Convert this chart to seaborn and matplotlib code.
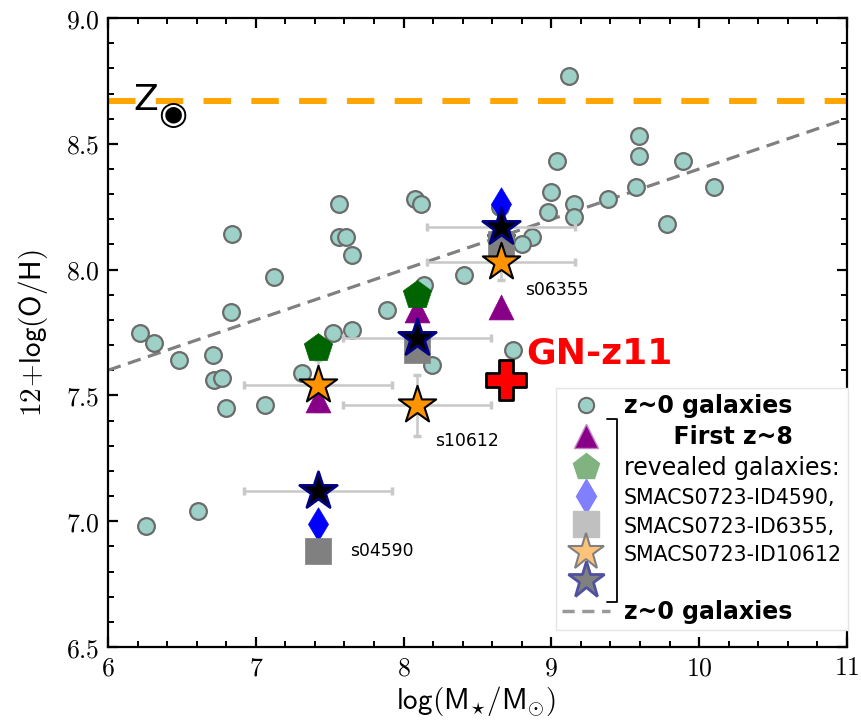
import numpy as np
import pandas as pd
import matplotlib
matplotlib.use("Agg")
import matplotlib.pyplot as plt
import seaborn as sns
from matplotlib.lines import Line2D
from matplotlib.ticker import MultipleLocator, FuncFormatter

# ---------------- data ----------------
z0_mass = [9.12, 9.59, 9.59, 9.04, 9.89, 10.10, 9.57, 9.00, 9.38, 9.15, 9.15, 8.98, 9.78,
           8.87, 8.80, 8.65, 8.08, 8.12, 7.56, 7.56, 7.61, 7.65, 6.84, 7.12, 8.14, 8.41,
           7.89, 6.83, 7.52, 7.65, 6.22, 6.31, 6.48, 6.71, 6.72, 6.77, 6.80, 7.06, 7.31,
           8.19, 8.74, 6.26, 6.61]
z0_oh = [8.77, 8.53, 8.45, 8.43, 8.43, 8.33, 8.33, 8.31, 8.28, 8.26, 8.21, 8.23, 8.18,
         8.13, 8.10, 8.25, 8.28, 8.26, 8.26, 8.13, 8.13, 8.06, 8.14, 7.97, 7.94, 7.98,
         7.84, 7.83, 7.75, 7.76, 7.75, 7.71, 7.64, 7.66, 7.56, 7.57, 7.45, 7.46, 7.59,
         7.62, 7.68, 6.98, 7.04]

gal_names = ["s04590", "s10612", "s06355"]
gal_mass = [7.42, 8.09, 8.66]
tri_oh = [7.48, 7.84, 7.85]
pent_oh = [7.69, 7.90, 8.12]
diam_oh = [6.99, np.nan, 8.26]
sq_oh = [6.88, 7.68, 8.10]
ostar_oh = [7.54, 7.46, 8.03]
ostar_oh_err = [0.10, 0.12, 0.07]
bstar_oh = [7.12, 7.73, 8.17]
mass_err = [0.50, 0.50, 0.50]
name_pos_mass = [7.64, 8.21, 8.82]
name_pos_oh = [6.88, 7.32, 7.92]

gnz11_mass = [8.69]
gnz11_oh = [7.56]

fit_mass = [6.0, 11.0]
fit_oh = [7.60, 8.60]
z_sun = 8.67

legend_labels = ["z~0 galaxies", "First z~8", "revealed galaxies:",
                 "SMACS0723-ID4590,", "SMACS0723-ID6355,", "SMACS0723-ID10612",
                 "", "z~0 galaxies"]

# ---------------- style ----------------
sns.set_style("ticks")
plt.rcParams["mathtext.fontset"] = "cm"
plt.rcParams["font.family"] = ["DejaVu Sans"]
for key in ("text.color", "axes.labelcolor", "xtick.color", "ytick.color"):
    plt.rcParams[key] = "black"

fig, ax = plt.subplots(figsize=(8.61, 7.21), dpi=100)
fig.subplots_adjust(left=0.1254, right=0.9837, bottom=0.1026, top=0.975)

# lines
ax.axhline(z_sun, color="#ffa500", lw=4.3, dashes=(4.6, 3.4), zorder=1)
sns.lineplot(x=fit_mass, y=fit_oh, ax=ax, color="#808080", lw=2.3, zorder=1.2)
ax.lines[-1].set_dashes((4.2, 2.4))

# z~0 galaxies
df0 = pd.DataFrame({"mass": z0_mass, "oh": z0_oh})
sns.scatterplot(data=df0, x="mass", y="oh", s=145, color="#9dd0c6",
                edgecolor="#6b6b6b", linewidth=1.6, zorder=2, ax=ax, legend=False)

# error bars
ax.errorbar(gal_mass, ostar_oh, xerr=mass_err, yerr=ostar_oh_err, fmt="none",
            ecolor="#c8c8c8", elinewidth=1.8, capsize=3, capthick=2.5, zorder=2.5)
ax.errorbar(gal_mass, bstar_oh, xerr=mass_err, fmt="none",
            ecolor="#c8c8c8", elinewidth=1.8, capsize=3, capthick=2.5, zorder=2.5)

dfz = pd.DataFrame({"mass": gal_mass, "tri": tri_oh, "pent": pent_oh, "diam": diam_oh,
                    "sq": sq_oh, "ostar": ostar_oh, "bstar": bstar_oh})

sns.scatterplot(data=dfz, x="mass", y="tri", marker="^", s=320, color="#880088",
                edgecolor="#880088", linewidth=0.5, zorder=3, ax=ax, legend=False)
sns.scatterplot(data=dfz, x="mass", y="pent", marker="p", s=460, color="#006400",
                edgecolor="#006400", linewidth=0.5, zorder=3.1, ax=ax, legend=False)
sns.scatterplot(data=dfz.dropna(subset=["diam"]), x="mass", y="diam", marker="d", s=290,
                color="#0000ff", edgecolor="#0000ff", linewidth=0.5, zorder=3.2, ax=ax,
                legend=False)
sns.scatterplot(data=dfz, x="mass", y="sq", marker="s", s=360, color="#808080",
                edgecolor="#808080", linewidth=0.5, zorder=3.3, ax=ax, legend=False)
sns.scatterplot(data=dfz, x="mass", y="ostar", marker="*", s=800, color="#ff9400",
                edgecolor="black", linewidth=1.5, zorder=3.4, ax=ax, legend=False)
sns.scatterplot(data=dfz, x="mass", y="bstar", marker="*", s=800, color="black",
                edgecolor="#000080", linewidth=2.0, zorder=3.5, ax=ax, legend=False)

# GN-z11
sns.scatterplot(x=gnz11_mass, y=gnz11_oh, marker="P", s=850, color="#ff0000",
                edgecolor="black", linewidth=2.0, zorder=4, ax=ax, legend=False)
ax.text(8.83, 7.665, "GN-z11", color="#ff0000", fontsize=26, fontweight="bold",
        ha="left", va="center", zorder=5)

for nm, xm, ym in zip(gal_names, name_pos_mass, name_pos_oh):
    ax.text(xm, ym, nm, fontsize=12.3, ha="left", va="center", color="black")

# Z sun
ax.text(6.175, 8.675, "Z", fontsize=26, ha="left", va="center", color="black")
ax.text(6.44, 8.615, "\u25c9", fontsize=24, ha="center", va="center", color="black")

# axes
ax.set_xlim(6, 11)
ax.set_ylim(6.5, 9.0)
ax.xaxis.set_major_locator(MultipleLocator(1))
ax.xaxis.set_minor_locator(MultipleLocator(0.2))
ax.yaxis.set_major_locator(MultipleLocator(0.5))
ax.yaxis.set_minor_locator(MultipleLocator(0.1))
ax.xaxis.set_major_formatter(FuncFormatter(lambda v, p: r"$%d$" % round(v)))
ax.yaxis.set_major_formatter(FuncFormatter(lambda v, p: r"$%.1f$" % v))
ax.tick_params(which="both", direction="in", top=True, right=True, color="black",
               labelcolor="black")
ax.tick_params(which="major", length=7, width=1.6, labelsize=18.5, pad=6)
ax.tick_params(which="minor", length=4, width=1.4)
for sp in ax.spines.values():
    sp.set_linewidth(1.6)
    sp.set_color("black")

ax.set_xlabel(r"$\mathsf{log(M_{\star}/M_{\odot})}$", fontsize=21, color="black")
ax.set_ylabel(r"$\mathsf{12\!+\!log(O/H)}$", fontsize=21, color="black")
ax.yaxis.set_label_coords(-0.079, 0.5)
ax.xaxis.set_label_coords(0.498, -0.058)

# legend
handles = [
    Line2D([], [], ls="none", marker="o", ms=11, mfc="#9dd0c6", mec="#6b6b6b", mew=1.5),
    Line2D([], [], ls="none", marker="^", ms=17, mfc="#880088", mec="#c080c0", mew=1),
    Line2D([], [], ls="none", marker="p", ms=20, mfc="#80b380", mec="#80b380", mew=1),
    Line2D([], [], ls="none", marker="d", ms=17, mfc="#8080ff", mec="#8080ff", mew=1),
    Line2D([], [], ls="none", marker="s", ms=19, mfc="#c0c0c0", mec="#c0c0c0", mew=1),
    Line2D([], [], ls="none", marker="*", ms=28, mfc="#ffc27a", mec="#808080", mew=1.5),
    Line2D([], [], ls="none", marker="*", ms=28, mfc="#808080", mec="#5050a0", mew=2),
    Line2D([], [], color="#999999", lw=2.5, dashes=(3.5, 2.2)),
]
leg = ax.legend(handles, legend_labels, loc="upper left", bbox_to_anchor=(0.606, 0.412),
                bbox_transform=ax.transAxes, borderaxespad=0, frameon=True, fancybox=False,
                edgecolor="#e4e4e4", framealpha=1, fontsize=15, handlelength=2.3,
                handletextpad=0.65, labelspacing=0.34, borderpad=0.3, handleheight=1.1,
                labelcolor="black")
texts = leg.get_texts()
for i in (0, 1, 7):
    texts[i].set_fontweight("bold")
    texts[i].set_fontsize(17)
texts[1].set_text("      First z~8")
texts[2].set_fontsize(17)
for i in (3, 4, 5):
    texts[i].set_fontsize(14.8)

# bracket
ax.plot([0.675, 0.689, 0.689, 0.675], [0.363, 0.363, 0.072, 0.072],
        transform=ax.transAxes, color="black", lw=1.3, zorder=10, clip_on=False)

fig.savefig("out.png", dpi=100)
